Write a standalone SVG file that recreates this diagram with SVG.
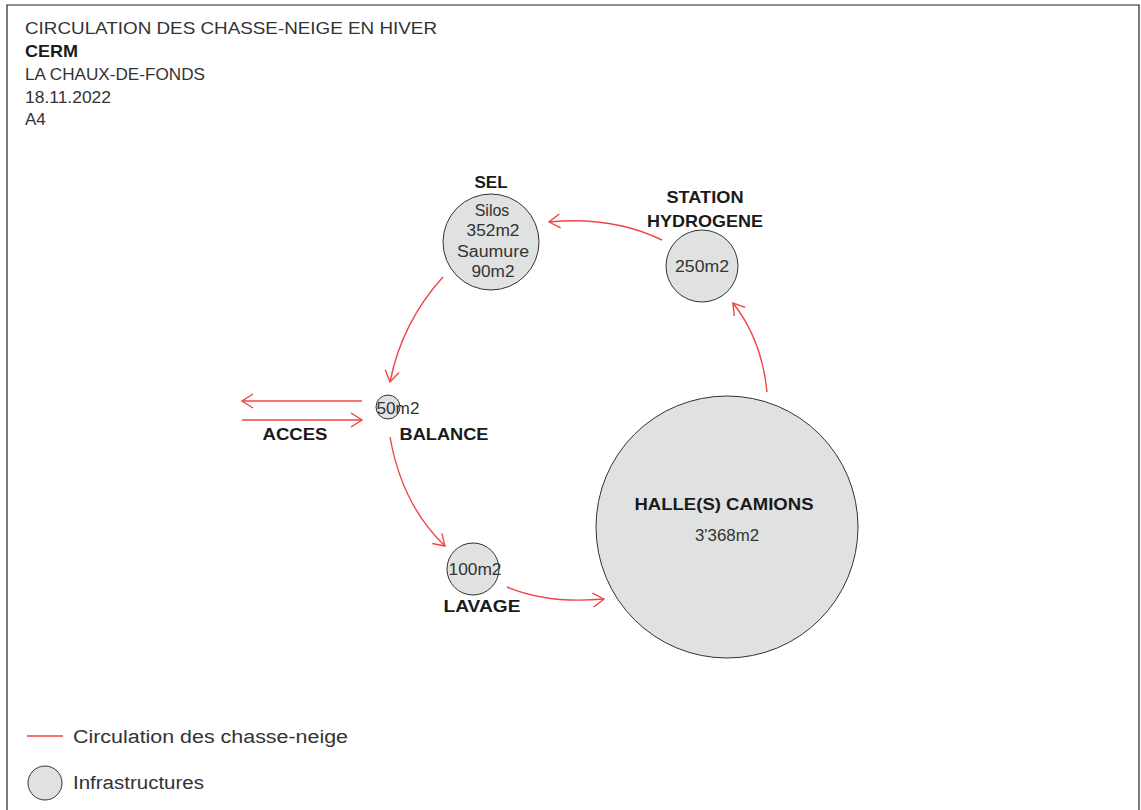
<svg xmlns="http://www.w3.org/2000/svg" width="1141" height="810" viewBox="0 0 1141 810">
<style>
  text { font-family: "Liberation Sans", Arial, sans-serif; fill: #333; }
  .hd { font-size: 17px; fill: #333; }
  .hb { font-size: 17px; font-weight: bold; fill: #1a1a1a; }
  .lb { font-size: 17px; font-weight: bold; fill: #1a1a1a; text-anchor: middle; }
  .val { font-size: 16px; fill: #333; text-anchor: middle; }
  .node { fill: #dfe2e1; stroke: #333; stroke-width: 1; }
  .flow { fill: none; stroke: #f04545; stroke-width: 1.4; marker-end: url(#arr); }
  .lg { font-size: 18px; fill: #333; }
</style>
<defs>
  <marker id="arr" markerUnits="userSpaceOnUse" viewBox="-13 -9 16 18" refX="0" refY="0" markerWidth="16" markerHeight="18" orient="auto">
    <path d="M-11,-7 L0,0 L-11,7" fill="none" stroke="#f04545" stroke-width="1.4"/>
  </marker>
</defs>
<rect x="0" y="0" width="1141" height="810" fill="#ffffff"/>
<path d="M7,815 L7,5 L1139,5 L1139,815" fill="none" stroke="#222" stroke-width="1.2"/>

<g id="header">
  <text class="hd" x="25" y="34" textLength="412" lengthAdjust="spacingAndGlyphs">CIRCULATION DES CHASSE-NEIGE EN HIVER</text>
  <text class="hb" x="25" y="57" textLength="53" lengthAdjust="spacingAndGlyphs">CERM</text>
  <text class="hd" x="25" y="80" font-size="16" textLength="180" lengthAdjust="spacingAndGlyphs">LA CHAUX-DE-FONDS</text>
  <text class="hd" x="25" y="103" font-size="16" textLength="86" lengthAdjust="spacingAndGlyphs">18.11.2022</text>
  <text class="hd" x="25" y="125" font-size="16">A4</text>
</g>

<g id="connectors">
  <path class="flow" d="M662,240 Q612,216 549,222"/>
  <path class="flow" d="M443,277 Q402,322 390,382"/>
  <path class="flow" d="M390,437 Q402,505 445,546"/>
  <path class="flow" d="M507,587 Q548,604 604,599"/>
  <path class="flow" d="M767,392 Q762,340 733,303"/>
  <path class="flow" d="M362,401 L242,401"/>
  <path class="flow" d="M242,420 L362,420"/>
</g>

<g id="node-sel">
  <circle class="node" cx="491" cy="242" r="48"/>
  <text class="lb" x="491" y="188">SEL</text>
  <text class="val" x="492" y="216">Silos</text>
  <text class="val" x="493" y="236" textLength="53" lengthAdjust="spacingAndGlyphs">352m2</text>
  <text class="val" x="493" y="257" textLength="72" lengthAdjust="spacingAndGlyphs">Saumure</text>
  <text class="val" x="493" y="277" textLength="43" lengthAdjust="spacingAndGlyphs">90m2</text>
</g>

<g id="node-station">
  <circle class="node" cx="702" cy="266" r="36"/>
  <text class="lb" x="705" y="203" textLength="77" lengthAdjust="spacingAndGlyphs">STATION</text>
  <text class="lb" x="705" y="227" textLength="116" lengthAdjust="spacingAndGlyphs">HYDROGENE</text>
  <text class="val" x="702" y="272" textLength="54" lengthAdjust="spacingAndGlyphs">250m2</text>
</g>

<g id="node-balance">
  <circle class="node" cx="388" cy="407" r="12"/>
  <text class="val" x="398" y="414" textLength="43" lengthAdjust="spacingAndGlyphs">50m2</text>
  <text class="lb" x="444" y="440" textLength="89" lengthAdjust="spacingAndGlyphs">BALANCE</text>
</g>

<g id="node-acces">
  <text class="lb" x="295" y="440" textLength="65" lengthAdjust="spacingAndGlyphs">ACCES</text>
</g>

<g id="node-lavage">
  <circle class="node" cx="473" cy="569" r="26"/>
  <text class="val" x="475" y="575" textLength="53" lengthAdjust="spacingAndGlyphs">100m2</text>
  <text class="lb" x="482" y="612" textLength="77" lengthAdjust="spacingAndGlyphs">LAVAGE</text>
</g>

<g id="node-halle">
  <circle class="node" cx="727" cy="527" r="131"/>
  <text class="lb" x="724" y="510" font-size="18" textLength="179" lengthAdjust="spacingAndGlyphs">HALLE(S) CAMIONS</text>
  <text class="val" x="727" y="541" textLength="64" lengthAdjust="spacingAndGlyphs">3'368m2</text>
</g>

<g id="legend">
  <line x1="27" y1="736" x2="63" y2="736" stroke="#f04545" stroke-width="1.4"/>
  <text class="lg" x="73" y="743" textLength="275" lengthAdjust="spacingAndGlyphs">Circulation des chasse-neige</text>
  <circle class="node" cx="45" cy="783" r="17"/>
  <text class="lg" x="73" y="789" textLength="131" lengthAdjust="spacingAndGlyphs">Infrastructures</text>
</g>
</svg>
